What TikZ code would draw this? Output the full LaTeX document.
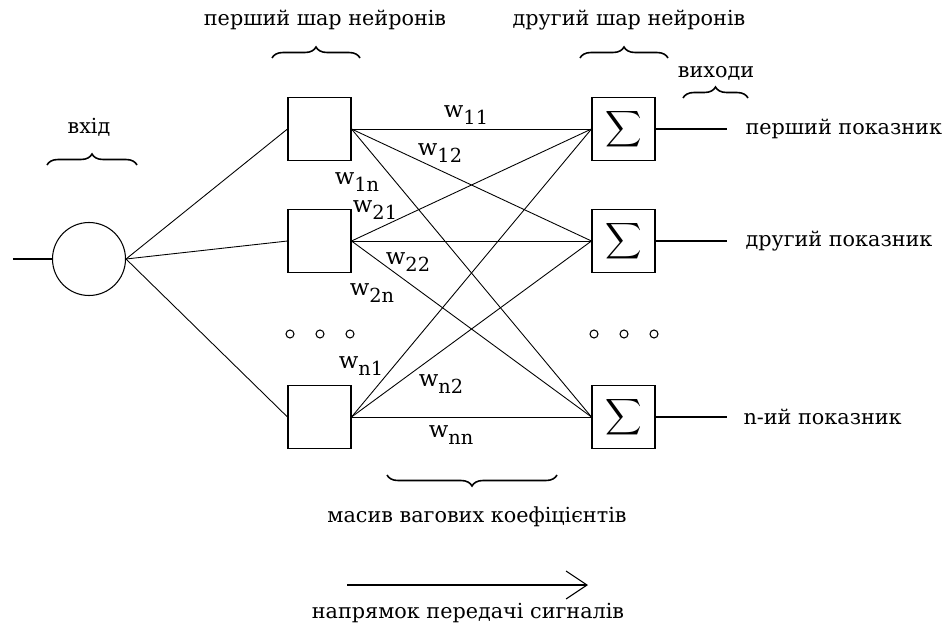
\documentclass[tikz,border=0pt]{standalone}
\usepackage{amsmath}
\usepackage{fontspec}
\setmainfont{DejaVu Serif}
\usepackage{tikz}
\usetikzlibrary{arrows.meta,positioning,decorations.pathreplacing}

% weight label: w with a lowered index
\newcommand{\wlab}[1]{{\fontsize{13}{15}\selectfont w}\raisebox{-4pt}{#1}}

\begin{document}
\begin{tikzpicture}[
        font=\fontsize{11.8}{14}\selectfont,
        line width=0.6pt,
        % Block styles
        neuron/.style={
            rectangle,
            draw,
            minimum size=1.26cm,
            inner sep=0pt
        },
        summer/.style={
            neuron,
            font=\fontsize{15}{18}\selectfont
        },
        source/.style={
            circle,
            draw,
            minimum size=1.46cm,
            inner sep=0pt
        },
        dot/.style={circle, draw, minimum size=0.16cm, inner sep=0pt},
        weight/.style={font=\fontsize{11}{13}\selectfont, inner sep=0pt},
        brace/.style={decorate, decoration={brace, amplitude=0.22cm}, line width=0.9pt},
        link/.style={line width=0.5pt},
        label/.style={inner sep=0pt}
    ]
    \useasboundingbox (0,0) rectangle (18.94,-12.56);

    % Input
    \node[source] (in) at (1.78,-5.18) {};
    \coordinate (src) at (0.26,-5.18);
    \draw (src) -- (in);
    \node[label] (inlab) at (1.78,-2.54) {вхід};
    \draw[brace] (0.94,-3.3) -- (2.74,-3.3);

    % First layer
    \node[neuron] (n1) at (6.39,-2.58) {};
    \node[neuron] (n2) at (6.39,-4.82) {};
    \node[neuron] (n3) at (6.39,-8.34) {};
    \node[label] (layer1) at (6.5,-0.4) {перший шар нейронів};
    \draw[brace] (5.44,-1.16) -- (7.2,-1.16);

    % Second layer
    \node[summer] (s1) at (12.47,-2.58) {$\displaystyle\sum$};
    \node[summer] (s2) at (12.47,-4.82) {$\displaystyle\sum$};
    \node[summer] (s3) at (12.47,-8.34) {$\displaystyle\sum$};
    \node[label] (layer2) at (12.58,-0.4) {другий шар нейронів};
    \draw[brace] (11.6,-1.16) -- (13.36,-1.16);

    % dots between rows
    \foreach \x in {5.8,6.4,7.0,11.88,12.48,13.08}
        \node[dot] at (\x,-6.68) {};

    % Outputs
    \coordinate (o1) at (14.54,-2.58);
    \coordinate (o2) at (14.54,-4.82);
    \coordinate (o3) at (14.54,-8.34);
    \draw (s1) -- (o1);
    \draw (s2) -- (o2);
    \draw (s3) -- (o3);
    \node[label, right=0.36cm of o1] (out1) {перший показник};
    \node[label, right=0.36cm of o2] (out2) {другий показник};
    \node[label, right=0.32cm of o3] (out3) {n-ий показник};
    \node[label] (outlab) at (14.32,-1.46) {виходи};
    \draw[brace] (13.66,-1.96) -- (14.96,-1.96);

    % Connections
    \foreach \i in {1,2,3}
        \draw[link] (in.east) -- (n\i.west);
    \foreach \i in {1,2,3}
        \foreach \j in {1,2,3}
            \draw[link] (n\i.east) -- (s\j.west);

    % Weights
    \node[weight] at (9.32,-2.3) {\wlab{11}};
    \node[weight] at (8.8,-3.06) {\wlab{12}};
    \node[weight] at (7.14,-3.64) {\wlab{1n}};
    \node[weight] at (7.5,-4.2) {\wlab{21}};
    \node[weight] at (8.16,-5.24) {\wlab{22}};
    \node[weight] at (7.44,-5.86) {\wlab{2n}};
    \node[weight] at (7.22,-7.32) {\wlab{n1}};
    \node[weight] at (8.82,-7.68) {\wlab{n2}};
    \node[weight] at (9.02,-8.7) {\wlab{nn}};

    % weight matrix
    \draw[brace] (11.14,-9.5) -- (7.74,-9.5);
    \node[label] (matrix) at (9.54,-10.34) {масив вагових коефіцієнтів};

    % signal direction
    \coordinate (dirA) at (6.94,-11.7);
    \coordinate (dirB) at (11.76,-11.7);
    \draw[-{Straight Barb[length=0.42cm, width=0.56cm]}] (dirA) -- (dirB);
    \node[label] (direction) at (9.36,-12.26) {напрямок передачі сигналів};

\end{tikzpicture}
\end{document}
